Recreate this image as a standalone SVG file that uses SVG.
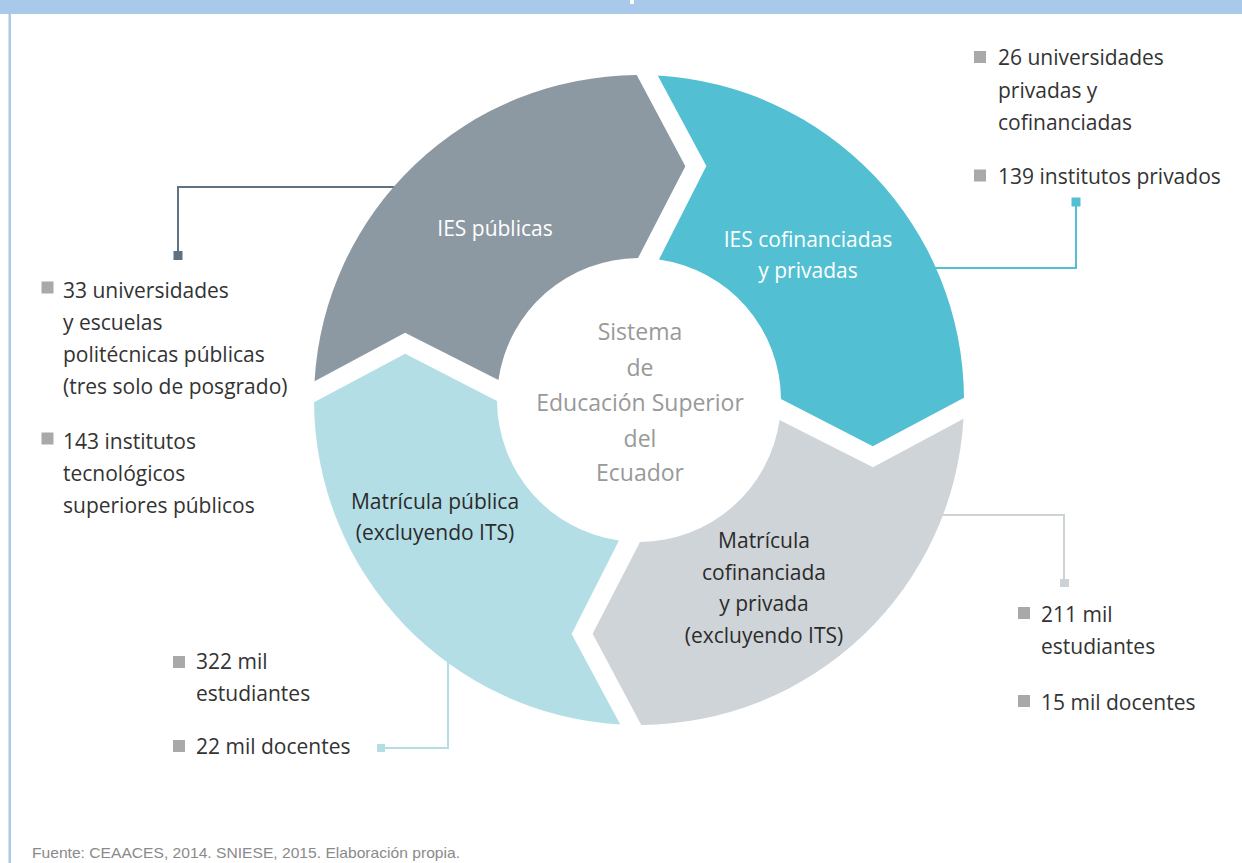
<svg xmlns="http://www.w3.org/2000/svg" width="1242" height="863" viewBox="0 0 1242 863">
  <style>
    .lbl { font-family: "Open Sans", "Liberation Sans", sans-serif; font-size: 21px; fill: #333333; }
    .seg-w { font-family: "Open Sans", "Liberation Sans", sans-serif; font-size: 21px; font-weight: 500; fill: #ffffff; text-anchor: middle; }
    .seg-d { font-family: "Open Sans", "Liberation Sans", sans-serif; font-size: 21px; font-weight: 500; fill: #2b2b2b; text-anchor: middle; }
    .hub { font-family: "Open Sans", "Liberation Sans", sans-serif; font-size: 23px; fill: #999999; text-anchor: middle; }
    .bullet { fill: #a8a9ab; }
    .conn { fill: none; stroke-width: 2; }
    .foot { font-family: "Liberation Sans", "Open Sans", sans-serif; font-size: 15px; fill: #8a8a8a; }
  </style>

  <!-- frame -->
  <rect x="0" y="0" width="1242" height="863" fill="#ffffff"/>
  <rect x="0" y="0" width="1242" height="14" fill="#a8c9e9"/>
  <rect x="630" y="0" width="4" height="4" fill="#ffffff"/>
  <rect x="8.5" y="14" width="2.5" height="849" fill="#a8c9e9"/>

  <!-- connectors (drawn below the ring) -->
  <g id="connectors">
    <polyline class="conn" stroke="#5f7281" points="420,187 178,187 178,253"/>
    <rect x="173.5" y="251" width="9" height="9" fill="#5f7281"/>

    <polyline class="conn" stroke="#52bfd2" points="920,268 1076,268 1076,204"/>
    <rect x="1071.5" y="197.5" width="9" height="9" fill="#52bfd2"/>

    <polyline class="conn" stroke="#cdd2d6" points="920,515 1064,515 1064,581"/>
    <rect x="1060" y="579" width="9" height="8" fill="#cdd2d6"/>

    <polyline class="conn" stroke="#b3dee6" points="448,640 448,748 382,748"/>
    <rect x="377" y="744" width="8" height="8" fill="#b3dee6"/>
  </g>

  <!-- ring of four arrow segments -->
  <g transform="rotate(-0.4 639 400)">
    <g id="seg-ies-publicas">
      <path d="M 314.68,379 A 325,325 0 0 1 639,75 L 687,166.5 L 639,258 A 142,142 0 0 0 498.56,379 L 405.5,331 Z" fill="#8c99a3"/>
    </g>
    <g id="seg-ies-privadas">
      <path d="M 660,75.68 A 325,325 0 0 1 964,400 L 872.5,448 L 781,400 A 142,142 0 0 0 660,259.56 L 708,166.5 Z" fill="#52bfd2"/>
    </g>
    <g id="seg-matricula-privada">
      <path d="M 963.32,421 A 325,325 0 0 1 639,725 L 591,633.5 L 639,542 A 142,142 0 0 0 779.44,421 L 872.5,469 Z" fill="#cfd4d8"/>
    </g>
    <g id="seg-matricula-publica">
      <path d="M 618,724.32 A 325,325 0 0 1 314,400 L 405.5,352 L 497,400 A 142,142 0 0 0 618,540.44 L 570,633.5 Z" fill="#b3dee6"/>
    </g>
  </g>

  <!-- segment captions -->
  <g id="cap-ies-publicas">
    <text class="seg-w" x="495" y="236">IES públicas</text>
  </g>
  <g id="cap-ies-privadas">
    <text class="seg-w" x="808" y="247">IES cofinanciadas</text>
    <text class="seg-w" x="808" y="278">y privadas</text>
  </g>
  <g id="cap-matricula-publica">
    <text class="seg-d" x="435" y="509">Matrícula pública</text>
    <text class="seg-d" x="435" y="540">(excluyendo ITS)</text>
  </g>
  <g id="cap-matricula-privada">
    <text class="seg-d" x="764" y="548">Matrícula</text>
    <text class="seg-d" x="764" y="580">cofinanciada</text>
    <text class="seg-d" x="764" y="611">y privada</text>
    <text class="seg-d" x="764" y="643">(excluyendo ITS)</text>
  </g>

  <!-- hub -->
  <g id="hub">
    <text class="hub" x="640" y="340">Sistema</text>
    <text class="hub" x="640" y="376">de</text>
    <text class="hub" x="640" y="411">Educación Superior</text>
    <text class="hub" x="640" y="447">del</text>
    <text class="hub" x="640" y="481">Ecuador</text>
  </g>

  <!-- public institutions list -->
  <g id="list-publicas">
    <rect class="bullet" x="41.5" y="281.5" width="12" height="12"/>
    <text class="lbl" x="63" y="298">33 universidades</text>
    <text class="lbl" x="63" y="330">y escuelas</text>
    <text class="lbl" x="63" y="362">politécnicas públicas</text>
    <text class="lbl" x="63" y="394">(tres solo de posgrado)</text>
    <rect class="bullet" x="41.5" y="432.5" width="12" height="12"/>
    <text class="lbl" x="63" y="449">143 institutos</text>
    <text class="lbl" x="63" y="481">tecnológicos</text>
    <text class="lbl" x="63" y="513">superiores públicos</text>
  </g>

  <!-- private institutions list -->
  <g id="list-privadas">
    <rect class="bullet" x="974" y="51" width="12" height="12"/>
    <text class="lbl" x="998" y="65">26 universidades</text>
    <text class="lbl" x="998" y="98">privadas y</text>
    <text class="lbl" x="998" y="130">cofinanciadas</text>
    <rect class="bullet" x="974" y="169.5" width="12" height="12"/>
    <text class="lbl" x="998" y="184">139 institutos privados</text>
  </g>

  <!-- public enrolment figures -->
  <g id="list-matricula-publica">
    <rect class="bullet" x="173" y="656" width="12" height="12"/>
    <text class="lbl" x="196" y="669">322 mil</text>
    <text class="lbl" x="196" y="701">estudiantes</text>
    <rect class="bullet" x="173" y="740" width="12" height="12"/>
    <text class="lbl" x="196" y="754">22 mil docentes</text>
  </g>

  <!-- private enrolment figures -->
  <g id="list-matricula-privada">
    <rect class="bullet" x="1018" y="607" width="12" height="12"/>
    <text class="lbl" x="1041" y="622">211 mil</text>
    <text class="lbl" x="1041" y="654">estudiantes</text>
    <rect class="bullet" x="1018" y="695" width="12" height="12"/>
    <text class="lbl" x="1041" y="710">15 mil docentes</text>
  </g>

  <!-- source note -->
  <text class="foot" x="32" y="858" textLength="428" lengthAdjust="spacingAndGlyphs">Fuente: CEAACES, 2014. SNIESE, 2015. Elaboración propia.</text>
</svg>
